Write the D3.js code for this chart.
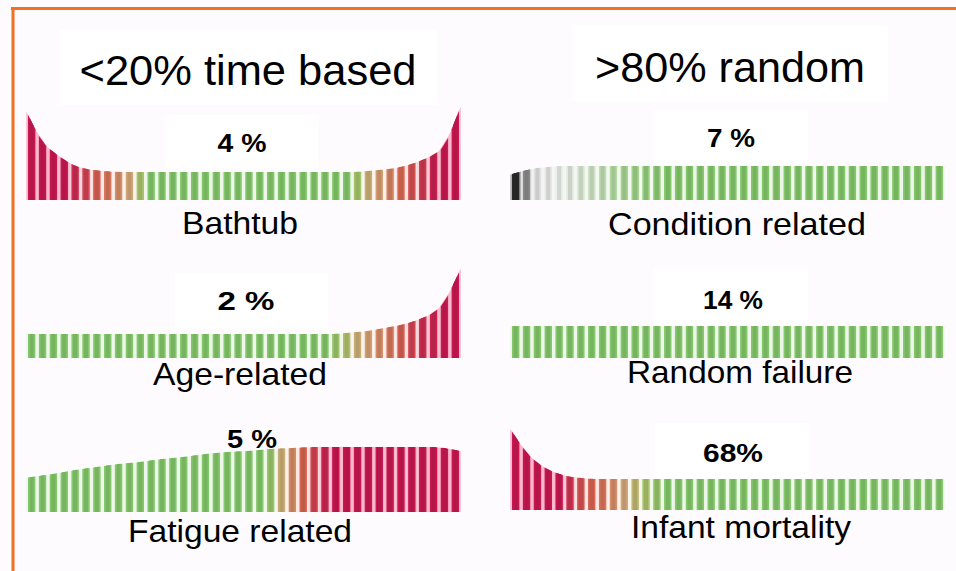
<!DOCTYPE html>
<html>
<head>
<meta charset="utf-8">
<script src="https://cdn.jsdelivr.net/npm/d3@7"></script>
<style>
  html, body { margin: 0; padding: 0; background: #fdfbfd; }
  svg { display: block; }
  text { font-family: "Liberation Sans", Arial, Helvetica, sans-serif; fill: #000; }
</style>
</head>
<body>
<svg id="chart" width="956" height="571"></svg>
<script>
// ---------------- DATA ----------------
const groupTitles = ["<20% time based", ">80% random"];
const categories = ["Bathtub", "Age-related", "Fatigue related",
                    "Condition related", "Random failure", "Infant mortality"];
const shares = ["4 %", "2 %", "5 %", "7 %", "14 %", "68%"];

// conditional failure rate over age (40 age intervals, arbitrary units)
const bathtub = [78, 57, 48, 40, 34, 31, 29.5, 28.5, 28, 28, 28, 28, 28, 28, 28, 28, 28, 28, 28, 28,
                 28, 28, 28, 28, 28, 28, 28, 28, 28, 28, 28, 29, 30, 31, 33, 36, 40, 45, 53, 80];
const ageRelated = [24, 24, 24, 24, 24, 24, 24, 24, 24, 24, 24, 24, 24, 24, 24, 24, 24, 24, 24, 24,
                    24, 24, 24, 24, 24, 24, 24, 24, 24, 25, 26, 27, 29, 31, 33, 36, 40, 45, 55, 78];
const fatigue = [35, 36.5, 38, 40, 42, 43.5, 45, 46.5, 48, 49, 50, 51.5, 53, 54, 55, 56.5, 58, 59, 60, 60.5,
                 61, 62, 63, 63.5, 64, 64.5, 65, 65, 65, 65, 65, 65, 65, 65, 65, 65, 65, 65, 64, 62];
const conditionRelated = [27, 30, 32, 33, 34, 34, 34, 34, 34, 34, 34, 34, 34, 34, 34, 34, 34, 34, 34, 34,
                          34, 34, 34, 34, 34, 34, 34, 34, 34, 34, 34, 34, 34, 34, 34, 34, 34, 34, 34, 34];
const randomFailure = [32, 32, 32, 32, 32, 32, 32, 32, 32, 32, 32, 32, 32, 32, 32, 32, 32, 32, 32, 32,
                       32, 32, 32, 32, 32, 32, 32, 32, 32, 32, 32, 32, 32, 32, 32, 32, 32, 32, 32, 32];
const infantMortality = [73, 57, 47, 40, 36, 33, 32, 31, 31, 31, 31, 31, 31, 31, 31, 31, 31, 31, 31, 31,
                         31, 31, 31, 31, 31, 31, 31, 31, 31, 31, 31, 31, 31, 31, 31, 31, 31, 31, 31, 31];

const seriesList = [bathtub, ageRelated, fatigue, conditionRelated, randomFailure, infantMortality];

// ---------------- LAYOUT / STYLE ----------------
const W = 956, H = 571;
const cols = [{x0: 28, x1: 459}, {x0: 512, x1: 943}];
const panelLayout = [
  {col: 0, base: 200, labelY: 234, labelW: 116, pctX: 242, pctY: 152, pctW: 49, box: [165, 115, 153, 53]},
  {col: 0, base: 358, labelY: 385, labelW: 174, pctX: 246, pctY: 310, pctW: 57, box: [175, 273, 153, 55]},
  {col: 0, base: 512, labelY: 542, labelW: 224, pctX: 252, pctY: 448, pctW: 50, box: null},
  {col: 1, base: 200, labelY: 235, labelW: 258, pctX: 731, pctY: 147, pctW: 48, box: [653, 110, 155, 55]},
  {col: 1, base: 358, labelY: 383, labelW: 226, pctX: 733, pctY: 309, pctW: 60, box: [653, 268, 155, 59]},
  {col: 1, base: 510, labelY: 538, labelW: 220, pctX: 733, pctY: 462, pctW: 60, box: [655, 423, 155, 57]}
];
const labelCx = [240, 240, 240, 737, 740, 741];
const titleLayout = [
  {cx: 248, y: 85, w: 337, box: [60, 30, 377, 75]},
  {cx: 730, y: 82, w: 270, box: [573, 25, 315, 77]}
];

// colour: risk 0 (green) -> 1 (crimson), defined along the bar index
const riskColor = d3.scaleLinear()
  .domain([0, 0.2, 0.4, 0.65, 1])
  .range(["#84c86c", "#aac46c", "#d4a878", "#d86a52", "#c81450"])
  .interpolate(d3.interpolateRgb);
const colorScales = [
  d3.scaleLinear().domain([0, 3, 5, 7, 9, 11, 29, 31, 33, 35, 37, 39]).range([1, 1, 0.8, 0.6, 0.4, 0, 0, 0.35, 0.55, 0.75, 0.95, 1]).clamp(true),
  d3.scaleLinear().domain([0, 27, 30, 33, 36, 39]).range([0, 0, 0.35, 0.6, 0.9, 1]).clamp(true),
  d3.scaleLinear().domain([0, 21.5, 23, 24.5, 26, 27.5, 39]).range([0, 0, 0.35, 0.6, 0.8, 1, 1]).clamp(true),
  null,
  d3.scaleLinear().domain([0, 39]).range([0, 0]),
  d3.scaleLinear().domain([0, 4, 6, 8, 10, 12, 14]).range([1, 1, 0.75, 0.6, 0.4, 0.2, 0]).clamp(true)
];
const conditionColor = d3.scaleLinear()
  .domain([0, 1, 2, 4, 7, 10, 14])
  .range(["#2a2a2a", "#8a8a8a", "#e2e2e2", "#eaeee8", "#cfe3c6", "#a6d592", "#84c86c"])
  .clamp(true);

function barColor(p, i) {
  if (p === 3) return conditionColor(i);
  return riskColor(colorScales[p](i));
}

// ---------------- DRAW ----------------
const svg = d3.select("#chart");
const defs = svg.append("defs");
defs.append("filter").attr("id", "soft")
  .attr("x", "-5%").attr("y", "-20%").attr("width", "110%").attr("height", "140%")
  .append("feGaussianBlur").attr("stdDeviation", 0.7);

svg.append("rect").attr("width", W).attr("height", H).attr("fill", "#fdfbfd");

// white boxes behind texts
titleLayout.forEach(t => {
  svg.append("rect").attr("x", t.box[0]).attr("y", t.box[1]).attr("width", t.box[2]).attr("height", t.box[3]).attr("fill", "#ffffff");
});
panelLayout.forEach(l => {
  if (l.box) svg.append("rect").attr("x", l.box[0]).attr("y", l.box[1]).attr("width", l.box[2]).attr("height", l.box[3]).attr("fill", "#ffffff");
});

// orange frame
svg.append("line").attr("x1", 11).attr("x2", W).attr("y1", 8.5).attr("y2", 8.5)
  .attr("stroke", "#f36f21").attr("stroke-width", 3);
svg.append("line").attr("x1", 13).attr("x2", 13).attr("y1", 7).attr("y2", H)
  .attr("stroke", "#f36f21").attr("stroke-width", 3);

function valAt(v, t) {
  const n = v.length;
  if (t <= 0) return v[0] + (v[0] - v[1]) * (-t);
  if (t >= n - 1) return v[n - 1] + (v[n - 1] - v[n - 2]) * (t - (n - 1));
  const i = Math.floor(t), f = t - i;
  return v[i] * (1 - f) + v[i + 1] * f;
}

seriesList.forEach((values, p) => {
  const L = panelLayout[p];
  const c = cols[L.col];
  const x = d3.scaleBand().domain(d3.range(values.length)).range([c.x0, c.x1]).paddingInner(0.32).paddingOuter(0);
  const y = d3.scaleLinear().domain([0, 100]).range([L.base, L.base - 100]);
  const step = x.step(), bw = x.bandwidth();
  const g = svg.append("g").attr("filter", "url(#soft)");

  function poly(i, w) {
    const cx = x(i) + bw / 2;
    const xl = cx - w / 2, xr = cx + w / 2;
    const tl = i - w / 2 / step, tr = i + w / 2 / step;
    return `M${xl},${y(0)}L${xl},${y(valAt(values, tl))}L${xr},${y(valAt(values, tr))}L${xr},${y(0)}Z`;
  }

  values.forEach((v, i) => {
    const col = barColor(p, i);
    const hsl = d3.hsl(col);
    const halo = d3.hsl(hsl.h, isNaN(hsl.s) ? 0 : Math.min(1, hsl.s * 1.1), Math.min(0.93, hsl.l + 0.3));
    g.append("path").attr("d", poly(i, step)).attr("fill", halo.formatHex()).attr("opacity", 0.55);
    g.append("path").attr("d", poly(i, bw)).attr("fill", col);
    g.append("path").attr("d", poly(i, bw * 0.55)).attr("fill", d3.color(col).darker(0.3).formatHex());
  });

  // category label
  svg.append("text").attr("x", labelCx[p]).attr("y", L.labelY)
    .attr("text-anchor", "middle").attr("font-size", 32)
    .attr("textLength", L.labelW).attr("lengthAdjust", "spacingAndGlyphs")
    .text(categories[p]);
  // share label
  svg.append("text").attr("x", L.pctX).attr("y", L.pctY)
    .attr("text-anchor", "middle").attr("font-size", 25).attr("font-weight", "bold")
    .attr("textLength", L.pctW).attr("lengthAdjust", "spacingAndGlyphs")
    .text(shares[p]);
});

titleLayout.forEach((t, k) => {
  svg.append("text").attr("x", t.cx).attr("y", t.y)
    .attr("text-anchor", "middle").attr("font-size", 43)
    .attr("textLength", t.w).attr("lengthAdjust", "spacingAndGlyphs")
    .text(groupTitles[k]);
});
</script>
</body>
</html>
